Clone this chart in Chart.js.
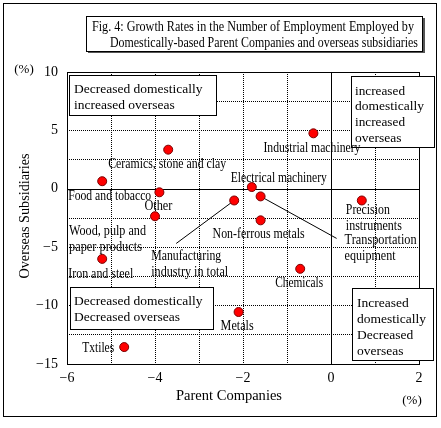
<!DOCTYPE html>
<html>
<head>
<meta charset="utf-8">
<script src="https://cdn.jsdelivr.net/npm/chart.js@4"></script>
<style>
  body { margin: 0; background: #fff; }
</style>
</head>
<body>
<canvas id="chart" width="441" height="428"></canvas>
<script>
// Industries and their employment growth rates (%)
const industries = [
  'Industrial machinery', 'Ceramics, stone and clay', 'Food and tobacco',
  'Electrical machinery', 'Other', 'Manufacturing industry in total',
  'Transportation equipment', 'Precision instruments', 'Wood, pulp and paper products',
  'Non-ferrous metals', 'Iron and steel', 'Chemicals', 'Metals', 'Txtiles'
];
const parentGrowth   = [-0.4, -3.7, -5.2, -1.8, -3.9, -2.2, -1.6, 0.7, -4.0, -1.6, -5.2, -0.7, -2.1, -4.7];
const overseasGrowth = [4.75, 3.35, 0.65, 0.15, -0.3, -1.0, -0.65, -1.0, -2.35, -2.7, -6.0, -6.85, -10.55, -13.55];

const xTickLabels = [-6, -4, -2, 0, 2];
const yTickLabels = [10, 5, 0, -5, -10, -15];

// label placement next to each point: lines, pixel offset, max width
const labelLayout = [
  { lines: ['Industrial machinery'], dx: -50, dy: 15, w: [97] },
  { lines: ['Ceramics, stone and clay'], dx: -60, dy: 15, w: [118] },
  { lines: ['Food and tobacco'], dx: -34, dy: 15, w: [83] },
  { lines: ['Electrical machinery'], dx: -21, dy: -9, w: [96] },
  { lines: ['Other'], dx: -15, dy: 14, w: [28] },
  { lines: ['Manufacturing', 'industry in total'], dx: -83, dy: 56, w: [70, 77], leader: [-58, 43] },
  { lines: ['Transportation', 'equipment'], dx: 84, dy: 44, w: [72, 51], leader: [76, 42] },
  { lines: ['Precision', 'instruments'], dx: -16, dy: 10, w: [44, 56] },
  { lines: ['Wood, pulp and', 'paper products'], dx: -86, dy: 15, w: [77, 73] },
  { lines: ['Non-ferrous metals'], dx: -48, dy: 14, w: [92] },
  { lines: ['Iron and steel'], dx: -34, dy: 15, w: [65] },
  { lines: ['Chemicals'], dx: -25, dy: 15, w: [48] },
  { lines: ['Metals'], dx: -18, dy: 14, w: [33] },
  { lines: ['Txtiles'], dx: -42, dy: 1, w: [32] }
];

const serif = '"Liberation Serif", "Times New Roman", serif';

function fmt(v) {
  return v < 0 ? '\u2212' + Math.abs(v) : String(v);
}

function txt(ctx, s, x, y, w) {
  if (w) ctx.fillText(s, x, y, w);
  else ctx.fillText(s, x, y);
}

function box(ctx, x1, y1, x2, y2, lines, lx, ly, lh, widths) {
  ctx.fillStyle = '#fff';
  ctx.fillRect(x1, y1, x2 - x1, y2 - y1);
  ctx.strokeStyle = '#000';
  ctx.lineWidth = 1;
  ctx.strokeRect(x1 + 0.5, y1 + 0.5, x2 - x1, y2 - y1);
  ctx.fillStyle = '#000';
  lines.forEach((l, i) => txt(ctx, l, lx, ly + i * lh, widths ? widths[i] : undefined));
}

// dotted grid everywhere except the zero line (drawn solid below)
function gridColor(c) {
  return c.tick && c.tick.value === 0 ? 'rgba(0,0,0,0)' : '#000';
}

// frame, zero lines and leader lines under the points
const underlay = {
  id: 'underlay',
  beforeDatasetsDraw(chart) {
    const { ctx, chartArea: a, scales: { x, y } } = chart;
    ctx.save();
    ctx.strokeStyle = '#000';
    ctx.lineWidth = 1;
    ctx.strokeRect(Math.round(a.left) + 0.5, Math.round(a.top) + 0.5,
      Math.round(a.right - a.left), Math.round(a.bottom - a.top));
    const x0 = Math.round(x.getPixelForValue(0)) + 0.5;
    const y0 = Math.round(y.getPixelForValue(0)) + 0.5;
    ctx.beginPath();
    ctx.moveTo(x0, a.top); ctx.lineTo(x0, a.bottom);
    ctx.moveTo(a.left, y0); ctx.lineTo(a.right, y0);
    ctx.stroke();
    labelLayout.forEach((l, i) => {
      if (!l.leader) return;
      const px = x.getPixelForValue(parentGrowth[i]);
      const py = y.getPixelForValue(overseasGrowth[i]);
      ctx.beginPath();
      ctx.moveTo(px, py);
      ctx.lineTo(px + l.leader[0], py + l.leader[1]);
      ctx.stroke();
    });
    ctx.restore();
  }
};

// boxes, labels, titles on top
const overlay = {
  id: 'overlay',
  afterDatasetsDraw(chart) {
    const { ctx, scales: { x, y } } = chart;
    ctx.save();
    ctx.textBaseline = 'middle';
    ctx.textAlign = 'left';

    // outer frame
    ctx.strokeStyle = '#000';
    ctx.lineWidth = 1;
    ctx.strokeRect(3.5, 3.5, 433, 413);

    // title box with shadow
    ctx.font = '14px ' + serif;
    ctx.fillStyle = '#555';
    ctx.fillRect(88, 18, 337, 35);
    box(ctx, 86, 16, 422, 51,
      ['Fig. 4: Growth Rates in the Number of Employment Employed by'], 92, 27, 0, [322]);
    txt(ctx, 'Domestically-based Parent Companies and overseas subsidiaries', 110, 43, 308);

    // quadrant boxes
    ctx.font = '13.5px ' + serif;
    box(ctx, 69, 75, 216, 115, ['Decreased domestically', 'increased overseas'], 74, 89, 16.5, [131, 103]);
    box(ctx, 351, 76, 434, 147, ['increased', 'domestically', 'increased', 'overseas'], 355, 91, 15.8, [50, 71, 50, 50]);
    box(ctx, 70, 287, 213, 329, ['Decreased domestically', 'Decreased overseas'], 74, 301, 16.5, [131, 108]);
    box(ctx, 352, 288, 433, 360, ['Increased', 'domestically', 'Decreased', 'overseas'], 357, 303, 16, [53, 71, 57, 50]);

    // point labels
    ctx.font = '14px ' + serif;
    ctx.fillStyle = '#000';
    labelLayout.forEach((l, i) => {
      const px = x.getPixelForValue(parentGrowth[i]);
      const py = y.getPixelForValue(overseasGrowth[i]);
      l.lines.forEach((s, j) => txt(ctx, s, px + l.dx, py + l.dy + j * 16, l.w[j]));
    });

    // axis titles
    ctx.font = '15px ' + serif;
    ctx.textAlign = 'center';
    txt(ctx, 'Parent Companies', 229, 396, 106);
    ctx.font = '13px ' + serif;
    txt(ctx, '(%)', 412, 401);
    txt(ctx, '(%)', 24, 70);
    ctx.font = '15px ' + serif;
    ctx.translate(25, 216);
    ctx.rotate(-Math.PI / 2);
    txt(ctx, 'Overseas Subsidiaries', 0, 0, 125);
    ctx.restore();
  }
};

const ctx = document.getElementById('chart').getContext('2d');

const chart = new Chart(ctx, {
  type: 'scatter',
  data: {
    datasets: [{
      label: 'Industries',
      data: industries.map((n, i) => ({ x: parentGrowth[i], y: overseasGrowth[i] })),
      backgroundColor: '#ff0000',
      borderColor: '#7a0000',
      borderWidth: 1,
      pointRadius: 4.5
    }]
  },
  options: {
    responsive: false,
    animation: false,
    layout: { padding: { left: 0, top: 72, right: 22, bottom: 0 } },
    scales: {
      x: {
        type: 'linear',
        min: -6,
        max: 2,
        afterFit: (scale) => { scale.height = 64; },
        ticks: {
          stepSize: 1,
          padding: 6,
          maxRotation: 0,
          color: '#000',
          font: { family: serif, size: 14 },
          callback: (v) => xTickLabels.includes(v) ? fmt(v) : ''
        },
        grid: { color: gridColor, lineWidth: 1, drawTicks: false },
        border: { display: false, dash: [1, 1] }
      },
      y: {
        type: 'linear',
        min: -15,
        max: 10,
        afterFit: (scale) => { scale.width = 67; },
        ticks: {
          stepSize: 2.5,
          padding: 9,
          color: '#000',
          font: { family: serif, size: 14 },
          callback: (v) => yTickLabels.includes(v) ? fmt(v) : ''
        },
        grid: { color: gridColor, lineWidth: 1, drawTicks: false },
        border: { display: false, dash: [1, 1] }
      }
    },
    plugins: {
      legend: { display: false },
      tooltip: { enabled: false }
    }
  },
  plugins: [underlay, overlay]
});
</script>
</body>
</html>
